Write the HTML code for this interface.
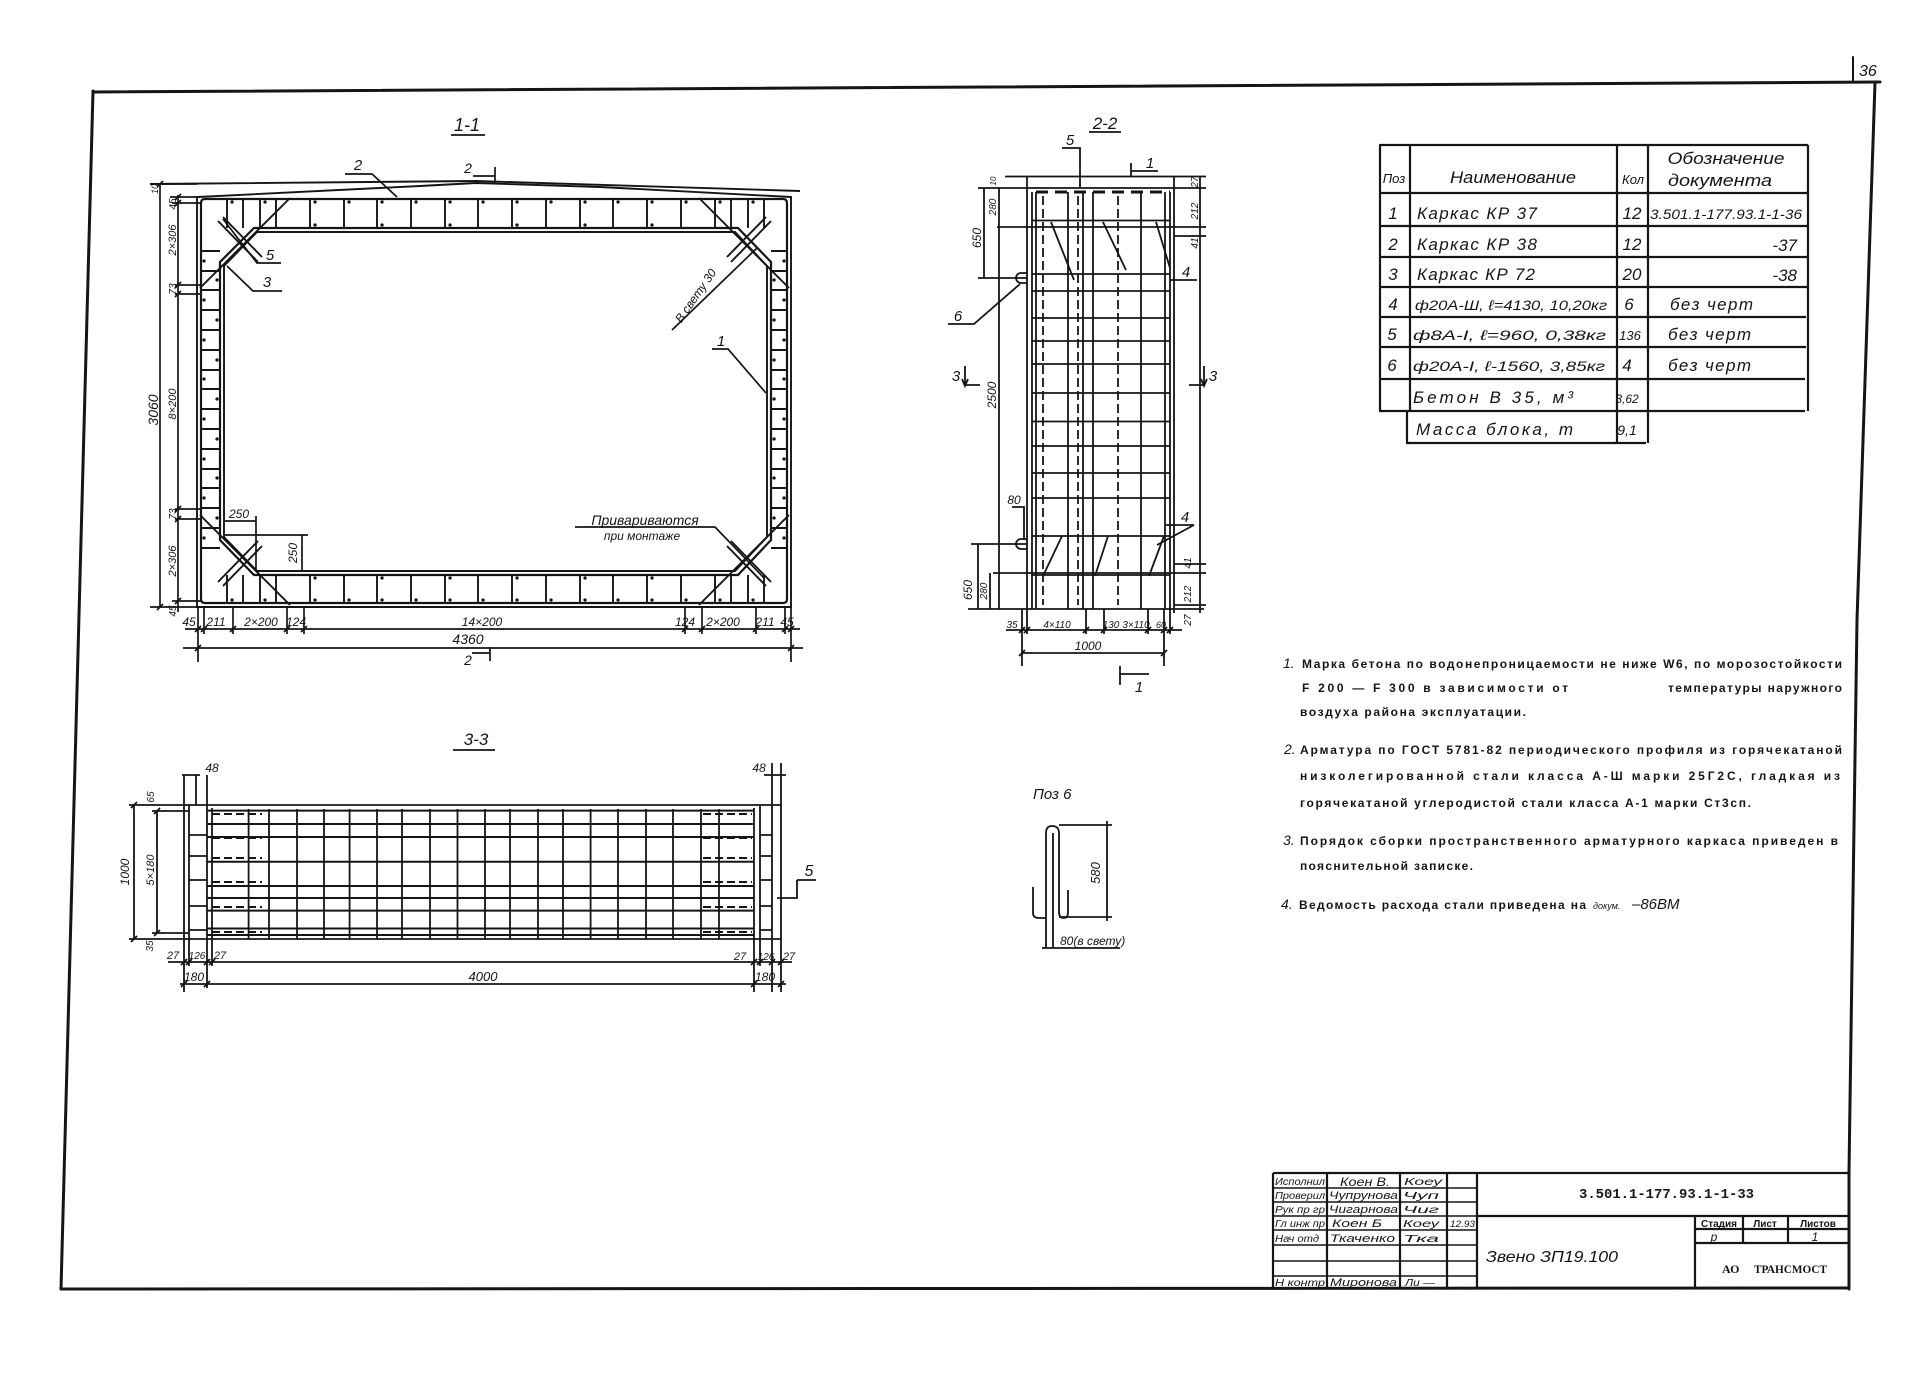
<!DOCTYPE html>
<html><head><meta charset="utf-8">
<style>
html,body{margin:0;padding:0;background:#fff;}
svg{display:block}
text{font-family:"Liberation Sans","DejaVu Sans",sans-serif;fill:#151515}
.h{font-style:italic}
.n{font-weight:bold;font-size:12px}
</style></head><body>
<svg width="1919" height="1387" viewBox="0 0 1919 1387" xmlns="http://www.w3.org/2000/svg">
<rect width="1919" height="1387" fill="#fff"/>

<!-- ===== FRAME ===== -->
<g stroke="#151515" fill="none" stroke-width="3" stroke-linecap="round">
<path d="M93,91 L61,1289 M93,92 L1880,82 M1875,83 L1857,620 L1849,1172 L1849,1289 M61,1289 L1849,1288"/>
<path d="M1853,57 V82" stroke-width="2"/>
</g>
<text x="1859" y="76" font-size="16" class="h">36</text>

<!-- ===== SECTION 1-1 ===== -->
<text x="467" y="131" font-size="18" class="h" text-anchor="middle">1-1</text>
<path d="M451,135 H485" stroke="#151515" stroke-width="1.8"/>
<g stroke="#151515" fill="none" stroke-width="1.9">
<polyline points="150,184 476,181 800,191"/>
<polyline points="198,197 420,186 476,183 600,187 791,197"/>
<path d="M197,196 V607 H791 V196"/>
<path d="M205,199 H783 Q787,199 787,203 V599 Q787,603 783,603 H205 Q201,603 201,599 V203 Q201,199 205,199 Z" stroke-width="2.2"/>
<polygon points="254,228 738,228 771,262 771,540 738,575 254,575 220,540 220,262" stroke-width="2.2"/>
<polygon points="257,232 735,232 767,266 767,537 735,571 257,571 224,537 224,266"/>
<path d="M227,199V228 M243,199V228 M260,199V228 M276,199V228 M310,199V228 M344,199V228 M377,199V228 M411,199V228 M445,199V228 M478,199V228 M512,199V228 M546,199V228 M580,199V228 M613,199V228 M647,199V228 M681,199V228 M715,199V228 M731,199V228 M748,199V228 M764,199V228
M227,575V603 M243,575V603 M260,575V603 M276,575V603 M310,575V603 M344,575V603 M377,575V603 M411,575V603 M445,575V603 M478,575V603 M512,575V603 M546,575V603 M580,575V603 M613,575V603 M647,575V603 M681,575V603 M715,575V603 M731,575V603 M748,575V603 M764,575V603"/>
<path d="M201,251H220 M201,271H220 M201,290H220 M201,310H220 M201,330H220 M201,350H220 M201,370H220 M201,389H220 M201,409H220 M201,429H220 M201,449H220 M201,469H220 M201,488H220 M201,508H220 M201,528H220 M201,548H220
M771,251H787 M771,271H787 M771,290H787 M771,310H787 M771,330H787 M771,350H787 M771,370H787 M771,389H787 M771,409H787 M771,429H787 M771,449H787 M771,469H787 M771,488H787 M771,508H787 M771,528H787 M771,548H787"/>
<path d="M290,198 L200,288 M218,221 L258,262 M223,217 L262,257
M699,198 L789,288 M771,221 L731,262 M766,217 L727,257
M290,605 L200,515 M218,582 L258,541 M223,586 L262,546
M699,605 L789,515 M771,582 L731,541 M766,586 L727,546"/>
</g>
<g stroke="#151515" stroke-width="3.2" stroke-linecap="round" fill="none">
<path d="M232,202h.1 M265,202h.1 M315,202h.1 M349,202h.1 M382,202h.1 M416,202h.1 M450,202h.1 M483,202h.1 M517,202h.1 M551,202h.1 M585,202h.1 M618,202h.1 M652,202h.1 M686,202h.1 M720,202h.1 M753,202h.1
M315,225h.1 M382,225h.1 M450,225h.1 M517,225h.1 M585,225h.1 M652,225h.1
M232,600h.1 M265,600h.1 M315,600h.1 M349,600h.1 M382,600h.1 M416,600h.1 M450,600h.1 M483,600h.1 M517,600h.1 M551,600h.1 M585,600h.1 M618,600h.1 M652,600h.1 M686,600h.1 M720,600h.1 M753,600h.1
M315,578h.1 M382,578h.1 M450,578h.1 M517,578h.1 M585,578h.1 M652,578h.1
M204,261h.1 M204,300h.1 M204,340h.1 M204,379h.1 M204,419h.1 M204,459h.1 M204,498h.1 M204,538h.1
M217,280h.1 M217,320h.1 M217,360h.1 M217,399h.1 M217,439h.1 M217,478h.1 M217,518h.1
M784,261h.1 M784,300h.1 M784,340h.1 M784,379h.1 M784,419h.1 M784,459h.1 M784,498h.1 M784,538h.1
M774,280h.1 M774,320h.1 M774,360h.1 M774,399h.1 M774,439h.1 M774,478h.1 M774,518h.1"/>
</g>
<g stroke="#151515" fill="none" stroke-width="1.7">
<path d="M345,174 H372 L397,197"/>
<path d="M223,219 L257,263 H281"/>
<path d="M227,266 L253,291 H282"/>
<path d="M473,176 H495 M495,167 V183"/>
<path d="M472,653 H490 M490,647 V661"/>
<path d="M672,330 L757,248"/>
<path d="M712,349 H728 L766,393"/>
<path d="M575,527 H715 L764,578"/>
<path d="M224,521 H256 M256,516 V571 M224,535 H308 M302,535 V571"/>
<path d="M160,184 V607 M178,195 V612 M150,184 H197 M170,197 H199 M172,203 H201 M175,285 H201 M175,294 H201 M175,509 H201 M175,519 H201 M172,601 H201 M150,607 H199"/>
<path d="M157,187 l6,-6 M157,610 l6,-6 M175,200 l6,-6 M175,206 l6,-6 M175,288 l6,-6 M175,297 l6,-6 M175,512 l6,-6 M175,522 l6,-6 M175,604 l6,-6"/>
<path d="M185,629 H800 M183,648 H803 M198,607 V662 M791,607 V662 M204,607 V634 M233,607 V634 M287,607 V634 M304,607 V634 M685,607 V634 M702,607 V634 M756,607 V634 M785,607 V634"/>
<path d="M195,632 l6,-6 M201,632 l6,-6 M230,632 l6,-6 M284,632 l6,-6 M301,632 l6,-6 M682,632 l6,-6 M699,632 l6,-6 M753,632 l6,-6 M782,632 l6,-6 M788,632 l6,-6 M195,651 l6,-6 M788,651 l6,-6"/>
</g>
<g class="h" font-size="15">
<text x="358" y="170" text-anchor="middle">2</text>
<text x="270" y="260" text-anchor="middle">5</text>
<text x="267" y="287" text-anchor="middle">3</text>
<text x="468" y="173" text-anchor="middle" font-size="14">2</text>
<text x="468" y="665" text-anchor="middle" font-size="14">2</text>
<text x="721" y="346" text-anchor="middle">1</text>
</g>
<g class="h" font-size="12">
<text transform="translate(699,298) rotate(-55)" text-anchor="middle">В свету 30</text>
<text x="645" y="525" text-anchor="middle" font-size="14">Привариваются</text>
<text x="642" y="540" text-anchor="middle" font-size="12">при монтаже</text>
<text x="239" y="518" text-anchor="middle">250</text>
<text transform="translate(297,553) rotate(-90)" text-anchor="middle">250</text>
<text transform="translate(158,410) rotate(-90)" text-anchor="middle" font-size="14">3060</text>
<text transform="translate(176,404) rotate(-90)" text-anchor="middle" font-size="11">8×200</text>
<text transform="translate(176,240) rotate(-90)" text-anchor="middle" font-size="11">2×306</text>
<text transform="translate(176,561) rotate(-90)" text-anchor="middle" font-size="11">2×306</text>
<text transform="translate(176,289) rotate(-90)" text-anchor="middle" font-size="10">73</text>
<text transform="translate(176,514) rotate(-90)" text-anchor="middle" font-size="10">73</text>
<text transform="translate(176,204) rotate(-90)" text-anchor="middle" font-size="10">45</text>
<text transform="translate(176,611) rotate(-90)" text-anchor="middle" font-size="10">45</text>
<text transform="translate(158,189) rotate(-90)" text-anchor="middle" font-size="9">10</text>
<text x="189" y="626" text-anchor="middle">45</text>
<text x="216" y="626" text-anchor="middle">211</text>
<text x="261" y="626" text-anchor="middle">2×200</text>
<text x="296" y="626" text-anchor="middle">124</text>
<text x="482" y="626" text-anchor="middle">14×200</text>
<text x="685" y="626" text-anchor="middle">124</text>
<text x="723" y="626" text-anchor="middle">2×200</text>
<text x="765" y="626" text-anchor="middle">211</text>
<text x="787" y="626" text-anchor="middle">45</text>
<text x="468" y="644" text-anchor="middle" font-size="14">4360</text>
</g>

<!-- ===== SECTION 2-2 ===== -->
<text x="1105" y="129" font-size="17" class="h" text-anchor="middle">2-2</text>
<g stroke="#151515" fill="none" stroke-width="1.8">
<path d="M1089,132 H1121"/>
<path d="M1062,148 H1080 V188 M1131,171 H1158 M1131,163 V177"/>
<path d="M1005,176.5 H1174 M978,188 H1206 M997,227 H1206 M993,573 H1206 M968,609 H1204 M1027,176 V609 M1174,176 V613"/>
<path d="M1032,220.5H1170 M1032,274H1170 M1032,291H1170 M1032,318H1170 M1032,341H1170 M1032,364H1170 M1032,393H1170 M1032,421.5H1170 M1032,446H1170 M1032,473H1170 M1032,498H1170 M1032,536H1170 M1032,575H1170"/>
<path d="M1032,192V609 M1036,192V609 M1068,192V609 M1083,192V609 M1093,192V609 M1141,192V609 M1165,192V609 M1170,192V609"/>
<path d="M1043,196V605 M1078,196V605 M1118,196V605" stroke-dasharray="9,4"/>
<path d="M1036,192 H1170" stroke-width="3" stroke-dasharray="12,7"/>
<path d="M1051,222 L1074,280 M1103,222 L1126,270 M1156,222 L1170,268 M1062,536 L1043,576 M1108,536 L1095,576 M1164,536 L1149,576"/>
<path d="M1170,280 H1197 M1166,525 H1194 L1157,545 M948,324 H974 L1020,284"/>
<path d="M1027,273 H1021 A5,5 0 0,0 1021,283 H1027 M1027,539 H1021 A5,5 0 0,0 1021,549 H1027"/>
<path d="M1012,507 H1024 V540"/>
<path d="M984,188 V278 M978,278 H1027 M999,188 V609 M978,544 V609 M971,544 H1027 M990,573 V609"/>
<path d="M1200,176 V613 M1174,236 H1206 M1174,564 H1206 M1174,605 H1206 M1174,176.5 H1206"/>
<path d="M965,366 V385 H980 M1204,366 V385 H1189"/>
<path d="M962,379 L965,386 L968,379 M1201,379 L1204,386 L1207,379"/>
<path d="M1006,630 H1182 M1022,653 H1164 M1022,609 V666 M1164,609 V666 M1027,609 V634 M1086,609 V634 M1104,609 V634 M1148,609 V634 M1170,609 V634"/>
<path d="M1019,633 l6,-6 M1024,633 l6,-6 M1083,633 l6,-6 M1101,633 l6,-6 M1145,633 l6,-6 M1161,633 l6,-6 M1167,633 l6,-6 M1019,656 l6,-6 M1161,656 l6,-6"/>
<path d="M1120,666 V685 M1120,674 H1149"/>
</g>
<g class="h" font-size="15">
<text x="1070" y="145" text-anchor="middle">5</text>
<text x="1150" y="168" text-anchor="middle">1</text>
<text x="1186" y="277" text-anchor="middle">4</text>
<text x="1185" y="522" text-anchor="middle">4</text>
<text x="958" y="321" text-anchor="middle">6</text>
<text x="956" y="381" text-anchor="middle">3</text>
<text x="1213" y="381" text-anchor="middle">3</text>
<text x="1139" y="692" text-anchor="middle">1</text>
</g>
<g class="h" font-size="11">
<text x="1014" y="504" text-anchor="middle" font-size="12">80</text>
<text transform="translate(981,238) rotate(-90)" text-anchor="middle" font-size="12">650</text>
<text transform="translate(972,590) rotate(-90)" text-anchor="middle" font-size="12">650</text>
<text transform="translate(996,395) rotate(-90)" text-anchor="middle" font-size="12">2500</text>
<text transform="translate(996,207) rotate(-90)" text-anchor="middle" font-size="10">280</text>
<text transform="translate(987,591) rotate(-90)" text-anchor="middle" font-size="10">280</text>
<text transform="translate(996,181) rotate(-90)" text-anchor="middle" font-size="8">10</text>
<text transform="translate(1198,182) rotate(-90)" text-anchor="middle" font-size="10">27</text>
<text transform="translate(1198,211) rotate(-90)" text-anchor="middle" font-size="10">212</text>
<text transform="translate(1198,243) rotate(-90)" text-anchor="middle" font-size="10">41</text>
<text transform="translate(1191,563) rotate(-90)" text-anchor="middle" font-size="10">41</text>
<text transform="translate(1191,594) rotate(-90)" text-anchor="middle" font-size="10">212</text>
<text transform="translate(1191,620) rotate(-90)" text-anchor="middle" font-size="10">27</text>
<text x="1012" y="628" text-anchor="middle" font-size="10">35</text>
<text x="1057" y="628" text-anchor="middle" font-size="10">4×110</text>
<text x="1111" y="628" text-anchor="middle" font-size="10">130</text>
<text x="1136" y="628" text-anchor="middle" font-size="10">3×110</text>
<text x="1161" y="628" text-anchor="middle" font-size="9">60</text>
<text x="1088" y="650" text-anchor="middle" font-size="12">1000</text>
</g>

<!-- ===== TABLE ===== -->
<g stroke="#151515" fill="none" stroke-width="2.2">
<path d="M1379,145 H1808 M1379,193 H1808 M1379,226 H1808 M1379,257 H1807 M1379,287 H1807 M1379,317 H1806 M1379,347 H1806 M1379,379 H1805 M1379,411 H1805 M1406,443 H1646"/>
<path d="M1380,145 V411 M1410,145 V411 M1407,411 V443 M1617,145 V443 M1648,145 V443 M1808,145 V411"/>
</g>
<g class="h" font-size="17">
<text x="1394" y="183" text-anchor="middle" font-size="13">Поз</text>
<text x="1513" y="183" text-anchor="middle" textLength="126" lengthAdjust="spacingAndGlyphs">Наименование</text>
<text x="1633" y="184" text-anchor="middle" font-size="13">Кол</text>
<text x="1726" y="164" text-anchor="middle" textLength="117" lengthAdjust="spacingAndGlyphs">Обозначение</text>
<text x="1720" y="186" text-anchor="middle" textLength="104" lengthAdjust="spacingAndGlyphs">документа</text>
<text x="1393" y="219" text-anchor="middle">1</text>
<text x="1417" y="219" textLength="120" lengthAdjust="spacing">Каркас КР 37</text>
<text x="1632" y="219" text-anchor="middle">12</text>
<text x="1650" y="219" font-size="14" textLength="152" lengthAdjust="spacingAndGlyphs">3.501.1-177.93.1-1-36</text>
<text x="1393" y="250" text-anchor="middle">2</text>
<text x="1417" y="250" textLength="120" lengthAdjust="spacing">Каркас КР 38</text>
<text x="1632" y="250" text-anchor="middle">12</text>
<text x="1797" y="251" text-anchor="end">-37</text>
<text x="1393" y="280" text-anchor="middle">3</text>
<text x="1417" y="280" textLength="118" lengthAdjust="spacing">Каркас КР 72</text>
<text x="1632" y="280" text-anchor="middle">20</text>
<text x="1797" y="281" text-anchor="end">-38</text>
<text x="1393" y="310" text-anchor="middle">4</text>
<text x="1415" y="310" font-size="14" textLength="192" lengthAdjust="spacingAndGlyphs">ф20А-Ш, ℓ=4130, 10,20кг</text>
<text x="1629" y="310" text-anchor="middle">6</text>
<text x="1670" y="310" textLength="83" lengthAdjust="spacing">без черт</text>
<text x="1392" y="340" text-anchor="middle">5</text>
<text x="1413" y="340" font-size="14" textLength="193" lengthAdjust="spacingAndGlyphs">ф8А-I,  ℓ=960,  0,38кг</text>
<text x="1630" y="340" text-anchor="middle" font-size="13">136</text>
<text x="1668" y="340" textLength="83" lengthAdjust="spacing">без черт</text>
<text x="1392" y="371" text-anchor="middle">6</text>
<text x="1413" y="371" font-size="14" textLength="192" lengthAdjust="spacingAndGlyphs">ф20А-I, ℓ-1560, 3,85кг</text>
<text x="1627" y="371" text-anchor="middle">4</text>
<text x="1668" y="371" textLength="83" lengthAdjust="spacing">без черт</text>
<text x="1413" y="403" textLength="160" lengthAdjust="spacing">Бетон  В 35,  м³</text>
<text x="1627" y="403" text-anchor="middle" font-size="12">3,62</text>
<text x="1416" y="435" textLength="157" lengthAdjust="spacing">Масса блока, т</text>
<text x="1627" y="435" text-anchor="middle" font-size="14">9,1</text>
</g>

<!-- ===== NOTES ===== -->
<g class="n">
<text x="1283" y="668" class="h" font-size="14" font-weight="normal">1.</text>
<text x="1302" y="668" textLength="540" lengthAdjust="spacing">Марка бетона по водонепроницаемости не ниже W6, по морозостойкости</text>
<text x="1302" y="692" textLength="266" lengthAdjust="spacing">F 200  — F  300 в  зависимости от</text>
<text x="1668" y="692" textLength="174" lengthAdjust="spacing">температуры наружного</text>
<text x="1300" y="716" textLength="226" lengthAdjust="spacing">воздуха района эксплуатации.</text>
<text x="1284" y="754" class="h" font-size="14" font-weight="normal">2.</text>
<text x="1300" y="754" textLength="542" lengthAdjust="spacing">Арматура по ГОСТ 5781-82 периодического профиля из горячекатаной</text>
<text x="1300" y="780" textLength="540" lengthAdjust="spacing">низколегированной стали класса А-Ш марки 25Г2С, гладкая из</text>
<text x="1300" y="807" textLength="451" lengthAdjust="spacing">горячекатаной углеродистой стали класса А-1 марки Ст3сп.</text>
<text x="1283" y="845" class="h" font-size="14" font-weight="normal">3.</text>
<text x="1300" y="845" textLength="538" lengthAdjust="spacing">Порядок сборки пространственного арматурного каркаса приведен в</text>
<text x="1300" y="870" textLength="173" lengthAdjust="spacing">пояснительной записке.</text>
<text x="1281" y="909" class="h" font-size="14" font-weight="normal">4.</text>
<text x="1299" y="909" textLength="287" lengthAdjust="spacing">Ведомость расхода стали приведена на</text>
<text x="1593" y="909" font-size="9" font-weight="normal" class="h">докум.</text>
<text x="1632" y="909" font-size="15" font-weight="normal" class="h">–86ВМ</text>
</g>

<!-- ===== SECTION 3-3 ===== -->
<text x="476" y="745" font-size="17" class="h" text-anchor="middle">3-3</text>
<g stroke="#151515" fill="none" stroke-width="1.8">
<path d="M453,750 H495"/>
<path d="M129,805 H781 M129,939 H781 M184,775 V992 M189,805 V939 M207,775 V988 M212,808 V939 M754,808 V992 M760,805 V939 M772,763 V992 M781,763 V992"/>
<path d="M207,810.6H754 M207,824H754 M207,837H754 M207,861.7H754 M207,886H754 M207,898H754 M207,910.6H754 M207,928.5H754 M207,935H754" stroke-width="2"/>
<path d="M248.6,809V939 M269,809V939 M297,809V939 M324,809V939 M349.6,809V939 M377,809V939 M402,809V939 M430,809V939 M457.5,809V939 M485,809V939 M510,809V939 M538,809V939 M563,809V939 M590.6,809V939 M618,809V939 M646,809V939 M673,809V939 M701,809V939 M719,809V939"/>
<path d="M189,835H207 M189,856H207 M189,880H207 M189,906H207 M189,930H207 M760,835H772 M760,856H772 M760,880H772 M760,906H772 M760,930H772"/>
<path d="M212,814H262 M212,838H262 M212,858H262 M212,882H262 M212,907H262 M212,932H262 M703,814H752 M703,838H752 M703,858H752 M703,882H752 M703,907H752 M703,932H752" stroke-dasharray="8,4" stroke-width="2"/>
<path d="M134,805 V939 M157,811 V933 M152,811 H189 M152,933 H189"/>
<path d="M182,775 H200 M764,775 H786 M196,775 V805"/>
<path d="M168,962 H792 M180,984 H786 M189,939 V966 M212,939 V966 M760,939 V966"/>
<path d="M131,808 l6,-6 M131,942 l6,-6 M154,814 l6,-6 M154,936 l6,-6 M181,965 l6,-6 M186,965 l6,-6 M204,965 l6,-6 M209,965 l6,-6 M751,965 l6,-6 M757,965 l6,-6 M769,965 l6,-6 M778,965 l6,-6 M181,987 l6,-6 M204,987 l6,-6 M751,987 l6,-6 M778,987 l6,-6"/>
<path d="M797,880 H816 M797,880 V898 H777"/>
</g>
<g class="h" font-size="12">
<text transform="translate(129,872) rotate(-90)" text-anchor="middle">1000</text>
<text transform="translate(154,870) rotate(-90)" text-anchor="middle" font-size="11">5×180</text>
<text transform="translate(154,797) rotate(-90)" text-anchor="middle" font-size="10">65</text>
<text transform="translate(153,946) rotate(-90)" text-anchor="middle" font-size="10">35</text>
<text x="212" y="772" text-anchor="middle">48</text>
<text x="759" y="772" text-anchor="middle">48</text>
<text x="173" y="959" text-anchor="middle" font-size="11">27</text>
<text x="197" y="959" text-anchor="middle" font-size="10">126</text>
<text x="220" y="959" text-anchor="middle" font-size="11">27</text>
<text x="740" y="960" text-anchor="middle" font-size="11">27</text>
<text x="766" y="960" text-anchor="middle" font-size="10">126</text>
<text x="789" y="960" text-anchor="middle" font-size="11">27</text>
<text x="194" y="981" text-anchor="middle">180</text>
<text x="483" y="981" text-anchor="middle" font-size="13">4000</text>
<text x="765" y="981" text-anchor="middle">180</text>
<text x="809" y="876" text-anchor="middle" font-size="16">5</text>
</g>

<!-- ===== POS 6 ===== -->
<text x="1033" y="799" font-size="15" class="h">Поз 6</text>
<g stroke="#151515" fill="none" stroke-width="1.8">
<path d="M1046,948 V833 Q1046,826 1052,826 Q1059,826 1059,833 V912 Q1059,918 1064,918 Q1068,918 1068,912 V890"/>
<path d="M1053,833 V948"/>
<path d="M1033,887 V913 Q1033,918 1039,918 H1046"/>
<path d="M1059,825 H1112 M1059,917 H1112 M1107,821 V921 M1042,948 H1120"/>
</g>
<text transform="translate(1100,873) rotate(-90)" text-anchor="middle" font-size="13" class="h">580</text>
<text x="1060" y="945" font-size="12" class="h">80(в свету)</text>

<!-- ===== TITLE BLOCK ===== -->
<g stroke="#151515" fill="none" stroke-width="2.2">
<path d="M1273,1173 H1849 M1273,1173 V1289 M1327,1173 V1289 M1400,1173 V1289 M1447,1173 V1289 M1477,1173 V1289"/>
<path d="M1273,1188 H1477 M1273,1202 H1477 M1273,1216 H1477 M1273,1230 H1477 M1273,1245 H1477 M1273,1261 H1477 M1273,1276 H1477" stroke-width="1.6"/>
<path d="M1477,1216 H1849 M1695,1216 V1289 M1695,1229 H1849 M1695,1243 H1849 M1743,1216 V1243 M1788,1216 V1243"/>
</g>
<g class="h" font-size="10">
<text x="1275" y="1185" textLength="50" lengthAdjust="spacingAndGlyphs">Исполнил</text>
<text x="1340" y="1186" font-size="12" textLength="50" lengthAdjust="spacingAndGlyphs">Коен В.</text>
<text x="1404" y="1185" textLength="38" lengthAdjust="spacingAndGlyphs">Коеу</text>
<text x="1275" y="1199" textLength="50" lengthAdjust="spacingAndGlyphs">Проверил</text>
<text x="1329" y="1199" font-size="11" textLength="69" lengthAdjust="spacingAndGlyphs">Чупрунова</text>
<text x="1403" y="1199" textLength="36" lengthAdjust="spacingAndGlyphs">Чуп</text>
<text x="1275" y="1213" textLength="50" lengthAdjust="spacingAndGlyphs">Рук пр гр</text>
<text x="1329" y="1213" font-size="11" textLength="69" lengthAdjust="spacingAndGlyphs">Чигарнова</text>
<text x="1403" y="1213" textLength="36" lengthAdjust="spacingAndGlyphs">Чиг</text>
<text x="1275" y="1227" textLength="50" lengthAdjust="spacingAndGlyphs">Гл инж пр</text>
<text x="1332" y="1227" font-size="11" textLength="50" lengthAdjust="spacingAndGlyphs">Коен Б</text>
<text x="1403" y="1227" textLength="36" lengthAdjust="spacingAndGlyphs">Коеу</text>
<text x="1450" y="1227" font-size="9" textLength="25" lengthAdjust="spacingAndGlyphs">12.93</text>
<text x="1275" y="1242" textLength="44" lengthAdjust="spacingAndGlyphs">Нач отд</text>
<text x="1330" y="1242" font-size="11" textLength="65" lengthAdjust="spacingAndGlyphs">Ткаченко</text>
<text x="1403" y="1242" textLength="36" lengthAdjust="spacingAndGlyphs">Тка</text>
<text x="1275" y="1286" textLength="50" lengthAdjust="spacingAndGlyphs">Н контр</text>
<text x="1330" y="1286" font-size="11" textLength="67" lengthAdjust="spacingAndGlyphs">Миронова</text>
<text x="1405" y="1286" textLength="30" lengthAdjust="spacingAndGlyphs">Ли —</text>
<text x="1486" y="1262" font-size="16" textLength="132" lengthAdjust="spacingAndGlyphs">Звено ЗП19.100</text>
</g>
<text x="1579" y="1198" font-weight="bold" font-size="14" textLength="175" lengthAdjust="spacingAndGlyphs" style="font-family:'Liberation Mono',monospace">3.501.1-177.93.1-1-33</text>
<g font-size="10" font-weight="bold">
<text x="1719" y="1227" text-anchor="middle">Стадия</text>
<text x="1765" y="1227" text-anchor="middle">Лист</text>
<text x="1818" y="1227" text-anchor="middle">Листов</text>
</g>
<text x="1714" y="1241" text-anchor="middle" font-size="12" class="h">р</text>
<text x="1815" y="1241" text-anchor="middle" font-size="12" class="h">1</text>
<text x="1722" y="1273" font-size="12" font-weight="bold" style="font-family:'Liberation Serif',serif">АО</text>
<text x="1754" y="1273" font-size="12" font-weight="bold" textLength="73" lengthAdjust="spacingAndGlyphs" style="font-family:'Liberation Serif',serif">ТРАНСМОСТ</text>

</svg>
</body></html>
